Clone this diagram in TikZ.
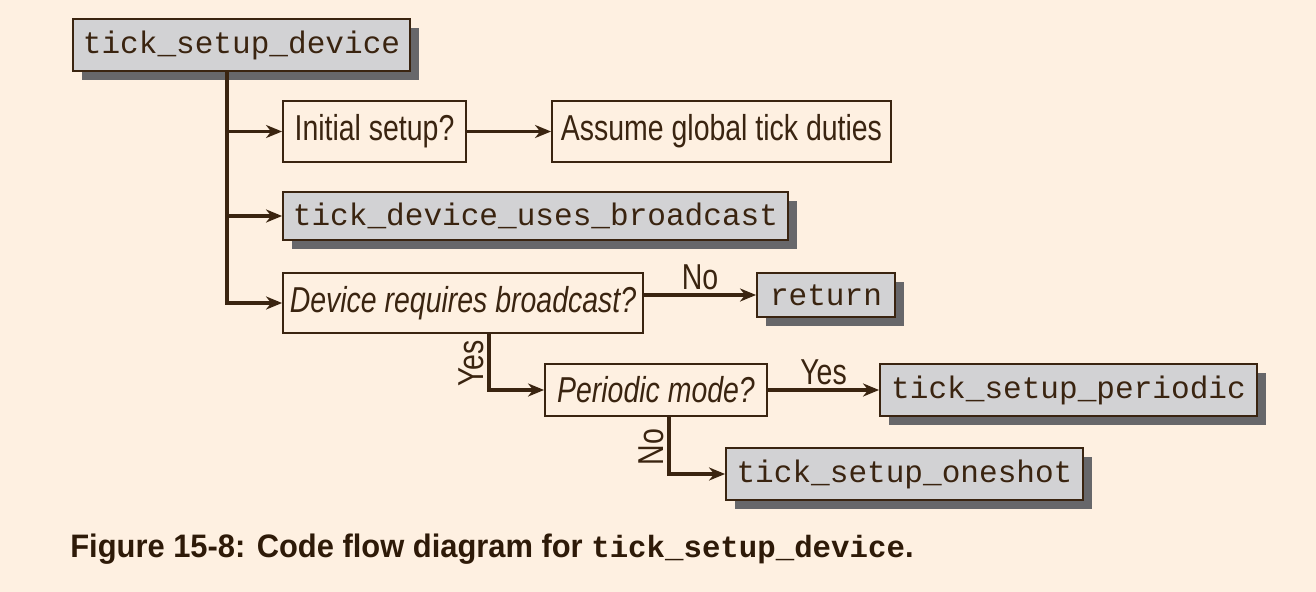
\documentclass[tikz,border=0pt]{standalone}
\usepackage{fontspec}
\setsansfont{Liberation Sans}[FakeStretch=0.79]
\setmonofont{Liberation Mono}
\newfontfamily\capfont{Liberation Sans}[FakeStretch=0.95]
\usetikzlibrary{arrows.meta,shadows,positioning}
\definecolor{paper}{HTML}{FEF0E1}
\definecolor{ink}{HTML}{3A2410}
\definecolor{capink}{HTML}{2E1A08}
\definecolor{boxgrey}{HTML}{D2D2D4}
\definecolor{shadowgrey}{HTML}{67676A}
\begin{document}
\begin{tikzpicture}[x=0.02cm, y=-0.02cm,
		decision/.style = {draw=ink, line width=1.1pt, fill=paper, text=ink, inner sep=0pt, font=\sffamily\fontsize{20.5}{24}\selectfont},
		func/.style = {draw=ink, line width=1.1pt, fill=boxgrey, text=ink, inner sep=0pt, font=\ttfamily\fontsize{17.7}{20}\selectfont, drop shadow={shadow xshift=0.18cm, shadow yshift=-0.18cm, fill=shadowgrey, opacity=1}},
		flow/.style = {draw=ink, line width=1.9pt, -{Stealth[length=3.2mm, width=2.6mm, inset=1mm]}},
		lbl/.style = {text=ink, inner sep=2pt, font=\sffamily\fontsize{20.5}{24}\selectfont}]
		\path [use as bounding box, fill=paper] (0,0) rectangle (1316,592);
		\node [func, minimum width=6.74cm, minimum height=1.04cm] (setup) at (241.5,45) {tick\_setup\_device};
		\node [decision, minimum width=3.66cm, minimum height=1.22cm] (initial) at (374.5,131.5) {Initial setup?};
		\node [decision, minimum width=6.78cm, minimum height=1.22cm] (global) at (721.5,131.5) {Assume global tick duties};
		\node [func, minimum width=10.1cm, minimum height=0.96cm] (bcast) at (535.5,216) {tick\_device\_uses\_broadcast};
		\node [decision, minimum width=7.2cm, minimum height=1.2cm] (requires) at (463,303) {\itshape Device requires broadcast?};
		\node [func, minimum width=2.76cm, minimum height=0.88cm] (ret) at (826,295) {return};
		\node [decision, minimum width=4.44cm, minimum height=1.04cm] (mode) at (656,390) {\itshape Periodic mode?};
		\node [func, minimum width=7.54cm, minimum height=1.04cm] (periodic) at (1068.5,390) {tick\_setup\_periodic};
		\node [func, minimum width=7.14cm, minimum height=1.04cm] (oneshot) at (904.5,474) {tick\_setup\_oneshot};
		\coordinate (trunk) at (227,71);
		\coordinate (yesdrop) at (489,333);
		\coordinate (nodrop) at (669,416);
		\draw [flow] (trunk) |- (initial);
		\draw [flow] (trunk) |- (bcast);
		\draw [flow] (trunk) |- (requires);
		\draw [flow] (initial) -- (global);
		\draw [flow] (requires.east |- ret) -- node [lbl, above] {No} (ret);
		\draw [flow] (yesdrop) |- node [lbl, pos=0.27, rotate=90, above] {Yes} (mode);
		\draw [flow] (mode) -- node [lbl, above] {Yes} (periodic);
		\draw [flow] (nodrop) |- node [lbl, pos=0.27, rotate=90, above] {No} (oneshot);
		\node [anchor=base west, inner sep=0pt, text=capink, font=\capfont\bfseries\fontsize{18.5}{22}\selectfont] (caption) at (70,557) {Figure 15-8: Code flow diagram for {\ttfamily\fontsize{17.5}{20}\selectfont tick\_setup\_device}.};
\end{tikzpicture}
\end{document}
